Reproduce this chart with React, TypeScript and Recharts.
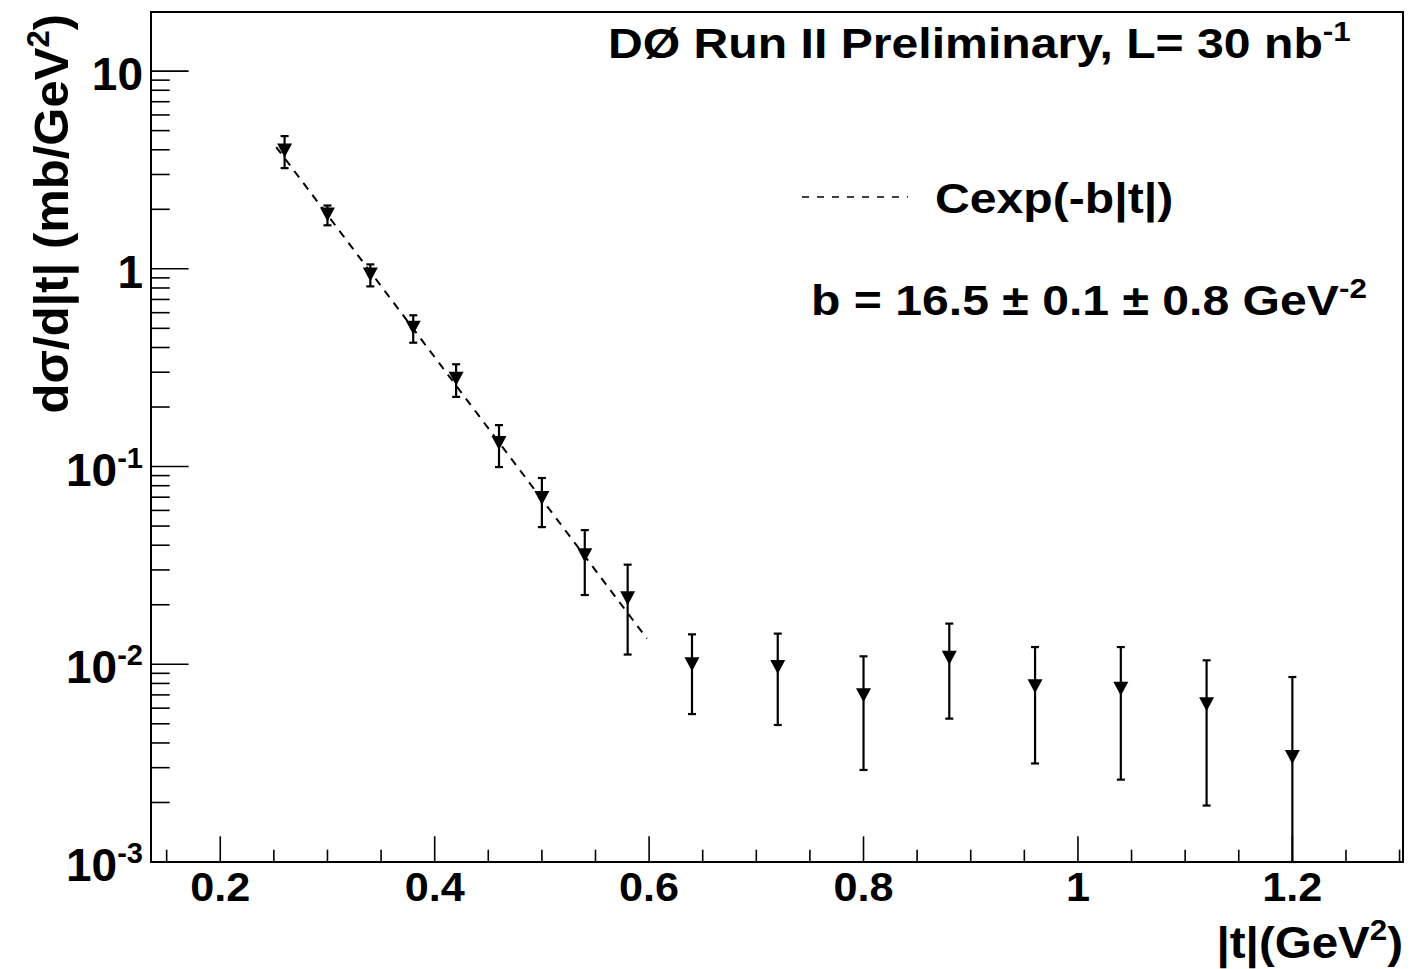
import React from 'react'
import { ScatterChart, Scatter, XAxis, YAxis, ErrorBar, ReferenceArea } from 'recharts'

// |t| bin centres (GeV^2)
const tValues = [0.26, 0.3, 0.34, 0.38, 0.42, 0.46, 0.5, 0.54, 0.58, 0.64, 0.72, 0.8, 0.88, 0.96, 1.04, 1.12, 1.2]
// dsigma/d|t| (mb/GeV^2)
const sigmaValues = [
  3.97, 1.88, 0.937, 0.504, 0.278, 0.1315, 0.0693, 0.0356, 0.0216, 0.01, 0.00969, 0.00697, 0.0108, 0.00774,
  0.00753, 0.00627, 0.0034,
]
// error bar ends
const sigmaLow = [
  3.23, 1.66, 0.815, 0.423, 0.225, 0.0994, 0.0494, 0.0224, 0.0112, 0.0056, 0.00493, 0.00292, 0.00531, 0.00315,
  0.00261, 0.00193, 0.001,
]
const sigmaHigh = [
  4.69, 2.09, 1.053, 0.582, 0.329, 0.162, 0.0875, 0.0477, 0.0319, 0.01417, 0.01429, 0.01097, 0.01606, 0.01222,
  0.01222, 0.01047, 0.00862,
]

// fit C exp(-b|t|), end points
const fitT = [0.2522, 0.598]
const fitSigma = [4.13, 0.01348]

const xDomain = [0.1354, 1.3032]
const yDomain = [0.001, 19.9]

const xMajorTicks = [0.2, 0.4, 0.6, 0.8, 1, 1.2]
const xMajorLabels = ['0.2', '0.4', '0.6', '0.8', '1', '1.2']
const xMinorTicks = [0.15, 0.25, 0.3, 0.35, 0.45, 0.5, 0.55, 0.65, 0.7, 0.75, 0.85, 0.9, 0.95, 1.05, 1.1, 1.15, 1.25, 1.3]

const yMajorTicks = [0.001, 0.01, 0.1, 1, 10]
const yMajorLabels = ['10^-3', '10^-2', '10^-1', '1', '10']
const yMinorTicks = [
  0.002, 0.003, 0.004, 0.005, 0.006, 0.007, 0.008, 0.009,
  0.02, 0.03, 0.04, 0.05, 0.06, 0.07, 0.08, 0.09,
  0.2, 0.3, 0.4, 0.5, 0.6, 0.7, 0.8, 0.9,
  2, 3, 4, 5, 6, 7, 8, 9,
]

const points = tValues.map((t, i) => ({
  t,
  v: sigmaValues[i],
  err: [sigmaValues[i] - sigmaLow[i], sigmaHigh[i] - sigmaValues[i]],
}))
const fitLine = fitT.map((t, i) => ({ t, v: fitSigma[i] }))

const FONT = "'Liberation Sans', Arial, Helvetica, sans-serif"

function TriangleDown(props: any) {
  const { cx, cy } = props
  if (cx == null || cy == null) return null
  return <path d={`M${cx - 7.5},${cy - 7}L${cx + 7.5},${cy - 7}L${cx},${cy + 7}Z`} fill="#000" />
}

function XTick(props: any) {
  const { x, y, payload } = props
  const idx = xMajorTicks.indexOf(payload.value)
  const major = idx >= 0
  return (
    <g>
      <line x1={x} x2={x} y1={y} y2={y - (major ? 25.7 : 12.3)} stroke="#000" strokeWidth={1.6} />
      {major && (
        <text
          x={0}
          y={0}
          transform={`translate(${x},${y + 38.5}) scale(1.08,1)`}
          textAnchor="middle"
          fontFamily={FONT}
          fontWeight="bold"
          fontSize={40}
          fill="#000"
        >
          {xMajorLabels[idx]}
        </text>
      )}
    </g>
  )
}

function YTick(props: any) {
  const { x, y, payload } = props
  const idx = yMajorTicks.indexOf(payload.value)
  const major = idx >= 0
  const [base, exp] = major ? yMajorLabels[idx].split('^') : ['', undefined]
  return (
    <g>
      <line x1={x} x2={x + (major ? 37.6 : 18.7)} y1={y} y2={y} stroke="#000" strokeWidth={1.6} />
      {major && (
        <text x={x - 8} y={y + 19} textAnchor="end" fontFamily={FONT} fontWeight="bold" fontSize={46} fill="#000">
          {base}
          {exp && (
            <tspan dy={-18} fontSize={29}>
              {exp}
            </tspan>
          )}
        </text>
      )}
    </g>
  )
}

function Overlay() {
  const txt = { fontFamily: FONT, fontWeight: 'bold' as const, fill: '#000' }
  return (
    <svg width={1412} height={969} style={{ position: 'absolute', left: 0, top: 0, pointerEvents: 'none' }}>
      <text transform="translate(608,58) scale(1.12,1)" fontSize={43} {...txt}>
        DØ Run II Preliminary, L= 30 nb
        <tspan dy={-17} fontSize={28}>
          -1
        </tspan>
      </text>

      <line x1={802} x2={908} y1={197} y2={197} stroke="#000" strokeWidth={1.5} strokeDasharray="7 8" />
      <text transform="translate(935,213) scale(1.12,1)" fontSize={43} {...txt}>
        Cexp(-b|t|)
      </text>

      <text transform="translate(811,315) scale(1.12,1)" fontSize={43} {...txt}>
        b = 16.5 ± 0.1 ± 0.8 GeV
        <tspan dy={-17} fontSize={28}>
          -2
        </tspan>
      </text>

      <text transform="translate(1403,958) scale(1.08,1)" textAnchor="end" fontSize={44} {...txt}>
        |t|(GeV
        <tspan dy={-18} fontSize={29}>
          2
        </tspan>
        <tspan dy={18}>)</tspan>
      </text>

      <text transform="translate(68,14) rotate(-90)" textAnchor="end" fontSize={49} {...txt}>
        dσ/d|t| (mb/GeV
        <tspan dy={-19} fontSize={31}>
          2
        </tspan>
        <tspan dy={19}>)</tspan>
      </text>
    </svg>
  )
}

export default function App() {
  return (
    <div style={{ position: 'relative', width: 1412, height: 969, background: '#fff' }}>
      <style>{'body{margin:0;background:#fff}'}</style>
      <ScatterChart width={1412} height={969} margin={{ top: 12, right: 9, bottom: 0, left: 0 }}>
        <XAxis
          type="number"
          dataKey="t"
          domain={xDomain}
          allowDataOverflow
          ticks={[...xMajorTicks, ...xMinorTicks]}
          interval={0}
          tick={<XTick />}
          tickLine={false}
          tickSize={0}
          tickMargin={0}
          height={107}
          axisLine={{ stroke: '#000', strokeWidth: 2 }}
        />
        <YAxis
          type="number"
          dataKey="v"
          scale="log"
          domain={yDomain}
          allowDataOverflow
          ticks={[...yMajorTicks, ...yMinorTicks]}
          interval={0}
          tick={<YTick />}
          tickLine={false}
          tickSize={0}
          tickMargin={0}
          width={151}
          axisLine={{ stroke: '#000', strokeWidth: 2 }}
        />
        <ReferenceArea
          x1={xDomain[0]}
          x2={xDomain[1]}
          y1={yDomain[0]}
          y2={yDomain[1]}
          fill="none"
          stroke="#000"
          strokeWidth={2}
          ifOverflow="visible"
        />
        <Scatter
          data={fitLine}
          line={{ stroke: '#000', strokeWidth: 2, strokeDasharray: '8 7' }}
          shape={() => <g />}
          isAnimationActive={false}
        />
        <Scatter data={points} shape={<TriangleDown />} isAnimationActive={false}>
          <ErrorBar dataKey="err" direction="y" width={4} stroke="#000" strokeWidth={2.2} isAnimationActive={false} />
        </Scatter>
      </ScatterChart>
      <Overlay />
    </div>
  )
}
